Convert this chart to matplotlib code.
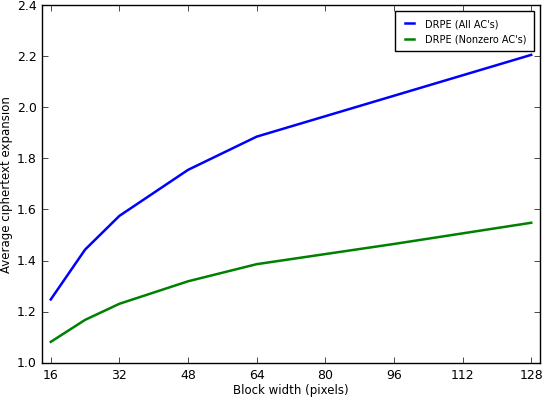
import matplotlib as mpl
mpl.use('Agg')
import matplotlib.pyplot as plt

# block widths and ciphertext expansion
block_width = [16, 24, 32, 48, 64, 96, 128]
all_ac = [1.248, 1.443, 1.575, 1.755, 1.885, 2.045, 2.205]
nonzero_ac = [1.082, 1.168, 1.231, 1.319, 1.386, 1.465, 1.548]
xticks = [16, 32, 48, 64, 80, 96, 112, 128]

plt.style.use('classic')
plt.rcParams['font.size'] = 9

fig = plt.figure(figsize=(5.48, 4.02), dpi=100)
ax = fig.add_axes([0.077, 0.095, 0.908, 0.89])
ax.plot(block_width, all_ac, color='b', lw=1.8, label="DRPE (All AC's)")
ax.plot(block_width, nonzero_ac, color='g', lw=1.8, label="DRPE (Nonzero AC's)")

ax.set_xlim(14, 130)
ax.set_ylim(1.0, 2.4)
ax.set_xticks(xticks)
ax.set_xlabel('Block width (pixels)', fontsize=8.5, labelpad=1)
ax.set_ylabel('Average ciphertext expansion', fontsize=8.5, labelpad=0)
ax.yaxis.set_label_coords(-0.058, 0.5)
ax.tick_params(labelsize=9)
ax.legend(loc='upper right', fontsize=7, handlelength=1.6,
          borderpad=0.75, labelspacing=0.6, borderaxespad=0.6)

fig.savefig('out.png', dpi=100)
